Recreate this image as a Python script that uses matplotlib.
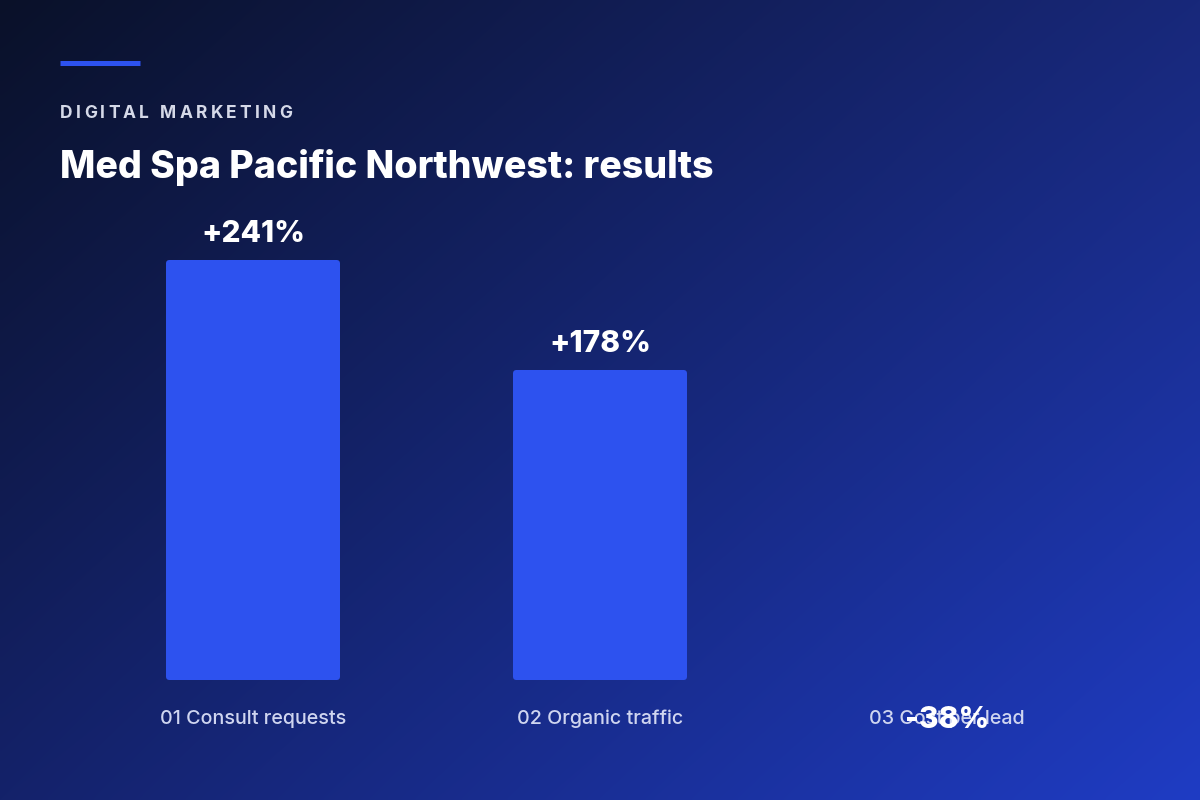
import matplotlib
matplotlib.use("Agg")
import matplotlib.pyplot as plt
import numpy as np

# chart data
categories = ["01 Consult requests", "02 Organic traffic", "03 Cost per lead"]
values = [241, 178, -38]
value_labels = ["+241%", "+178%", "-38%"]
eyebrow = "DIGITAL MARKETING"
title = "Med Spa Pacific Northwest: results"

BAR = "#2d52ef"
FONT = ["Inter", "DejaVu Sans"]
plt.rcParams["font.family"] = FONT

W, H = 1200, 800
fig = plt.figure(figsize=(W / 100, H / 100), dpi=100)

# background gradient (bilinear between four corner colours)
def hex_rgb(h):
    h = h.lstrip("#")
    return np.array([int(h[i:i + 2], 16) / 255 for i in (0, 2, 4)])

tl, tr = hex_rgb("#0a1129"), hex_rgb("#18287a")
bl, br = hex_rgb("#14226a"), hex_rgb("#1f3cc4")
xs = np.linspace(0, 1, 300)[None, :, None]
ys = np.linspace(0, 1, 200)[:, None, None]
grad = (tl * (1 - xs) * (1 - ys) + tr * xs * (1 - ys)
        + bl * (1 - xs) * ys + br * xs * ys)
bg = fig.add_axes([0, 0, 1, 1])
bg.imshow(grad, aspect="auto", extent=[0, 1, 0, 1], interpolation="bicubic")
bg.set_xlim(0, 1)
bg.set_ylim(0, 1)
bg.axis("off")

# accent line
bg.plot([60 / W, 140 / W], [1 - 62.5 / H, 1 - 62.5 / H], color=BAR, lw=3.6,
        solid_capstyle="butt")

# eyebrow text with letter spacing
renderer = fig.canvas.get_renderer()
x = 60 / W
for ch in eyebrow:
    t = fig.text(x, 1 - 113 / H, ch, fontsize=12.5, fontweight="bold",
                 color="#d5d9e8", va="center", ha="left")
    w = t.get_window_extent(renderer).width
    if ch == " ":
        w = 5
    x += (w + 3.2) / W

fig.text(60 / W, 1 - 167 / H, title, fontsize=27, fontweight=800,
         color="white", va="center", ha="left")

# bars
scale = 1.743  # px per unit
ax_top_px, base_px = 230, 680
ax = fig.add_axes([79.5 / W, 1 - base_px / H, 1041 / W, (base_px - ax_top_px) / H])
ax.set_facecolor("none")
pos = np.arange(len(categories))
lw_px = 6
half = (lw_px / 2) / scale
heights = [v - 2 * half if v > 0 else v for v in values]
bottoms = [half if v > 0 else 0 for v in values]
widths = [lw_px * 0.72 if v > 0 else 0 for v in values]
bars = ax.bar(pos, heights, bottom=bottoms, width=(174 - lw_px) / 347,
              color=BAR, edgecolor=BAR, linewidth=widths, joinstyle="round")
for b, v in zip(bars, values):
    b.set_clip_on(v < 0)
ax.set_xlim(-0.5, len(categories) - 0.5)
ax.set_ylim(0, (base_px - ax_top_px) / scale)
ax.axis("off")

for p, v, lab, cat in zip(pos, values, value_labels, categories):
    ax.annotate(cat, (p, 0), xytext=(0, -39 * 0.72), textcoords="offset points",
                ha="center", va="center", fontsize=14.2, color="#cfd5f0",
                fontweight="medium", annotation_clip=False)
    ax.annotate(lab, (p, v), xytext=(0, 26 * 0.72), textcoords="offset points",
                ha="center", va="center", fontsize=21.5, color="white",
                fontweight=800, annotation_clip=False)

fig.savefig("out.png", dpi=100)
